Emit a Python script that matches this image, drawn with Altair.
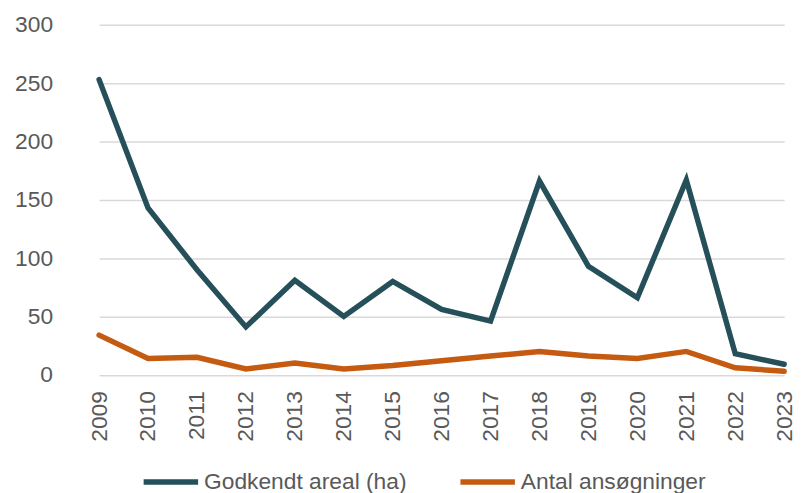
import altair as alt
import pandas as pd

years = [str(y) for y in range(2009, 2024)]
godkendt = [253, 143, 90, 41, 81, 50, 80, 56, 46, 166, 93, 66, 167, 18, 9]
antal = [34, 14, 15, 5, 10, 5, 8, 12, 16, 20, 16, 14, 20, 6, 3]
series = ["Godkendt areal (ha)", "Antal ansøgninger"]
colors = ["#254F59", "#C55A11"]

df = pd.concat([
    pd.DataFrame({"year": years, "value": godkendt, "series": series[0], "order": 0}),
    pd.DataFrame({"year": years, "value": antal, "series": series[1], "order": 1}),
])

FONT = "Liberation Sans"
GRAY = "#595959"

chart = alt.Chart(df).mark_line(strokeWidth=5.5, strokeCap="round", strokeJoin="miter").encode(
    x=alt.X("year:O", title=None,
            scale=alt.Scale(type="point", range=[25, 717], padding=0),
            axis=alt.Axis(labelAngle=270, labelAlign="right", labelBaseline="middle",
                          labelFontSize=23, labelColor=GRAY, labelFont=FONT,
                          labelPadding=16, ticks=False, domain=False, grid=False)),
    y=alt.Y("value:Q", title=None,
            scale=alt.Scale(domain=[0, 300], nice=False),
            axis=alt.Axis(values=[0, 50, 100, 150, 200, 250, 300],
                          labelFontSize=23, labelColor=GRAY, labelFont=FONT,
                          labelPadding=22, ticks=False, domain=False,
                          gridColor="#D9D9D9", gridWidth=1.5)),
    color=alt.Color("series:N", title=None,
                    scale=alt.Scale(domain=series, range=colors),
                    legend=alt.Legend(orient="none", direction="horizontal",
                                      legendX=67, legendY=431,
                                      symbolType="stroke", symbolSize=3025,
                                      symbolStrokeWidth=5.5, labelFontSize=23,
                                      labelColor=GRAY, labelFont=FONT,
                                      labelOffset=3, columnPadding=43,
                                      labelLimit=400)),
    order="order:Q",
).properties(
    width=735, height=353.5,
    autosize=alt.AutoSizeParams(type="none"),
    padding={"left": 67, "top": 14.5, "right": 0, "bottom": 117},
).configure_view(stroke=None)

chart.save("out.html", embed_options={"renderer": "svg", "actions": False})
